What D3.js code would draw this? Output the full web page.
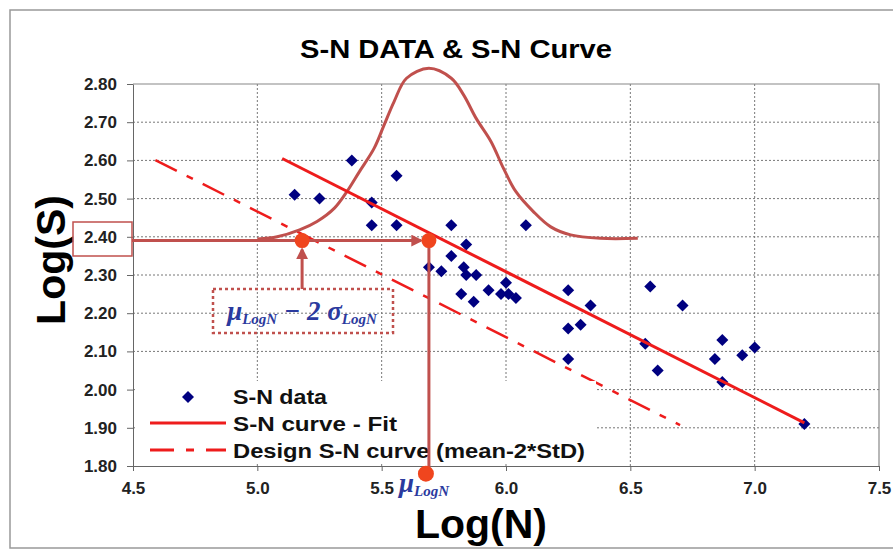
<!DOCTYPE html>
<html>
<head>
    <meta charset="utf-8">
    <title>S-N DATA & S-N Curve</title>
    <script src="https://d3js.org/d3.v7.min.js"></script>
    <style>
        body { margin: 0; background: #fff; }
        .grid line { stroke: #777; stroke-width: 1; stroke-dasharray: 2, 2; }
        .axis text { font: bold 17px "Liberation Sans", Arial, sans-serif; fill: #222; }
        .axis path, .axis line { stroke: #666; }
        .legend text { font: bold 20px "Liberation Sans", Arial, sans-serif; fill: #111; }
        .greek { font-family: "Liberation Serif", "Times New Roman", serif; font-style: italic; font-weight: bold; fill: #2b3a9e; }
    </style>
</head>
<body>
<svg width="893" height="555"></svg>
<script>
    // tick values
    var xTicks = [4.5, 5.0, 5.5, 6.0, 6.5, 7.0, 7.5];
    var yTicks = [1.8, 1.9, 2.0, 2.1, 2.2, 2.3, 2.4, 2.5, 2.6, 2.7, 2.8];

    // S-N data points (log N, log S)
    var snLogN = [5.15, 5.25, 5.38, 5.46, 5.46, 5.56, 5.56, 5.78, 6.08, 5.84,
        5.78, 5.69, 5.74, 5.83, 5.84, 5.88, 6.00, 5.93, 5.98, 6.01,
        6.04, 5.82, 5.87, 6.25, 6.25, 6.30, 6.34, 6.25, 6.58, 6.71,
        6.56, 6.61, 6.87, 6.84, 6.95, 7.00, 6.87, 7.20];
    var snLogS = [2.51, 2.50, 2.60, 2.49, 2.43, 2.56, 2.43, 2.43, 2.43, 2.38,
        2.35, 2.32, 2.31, 2.32, 2.30, 2.30, 2.28, 2.26, 2.25, 2.25,
        2.24, 2.25, 2.23, 2.26, 2.16, 2.17, 2.22, 2.08, 2.27, 2.22,
        2.12, 2.05, 2.13, 2.08, 2.09, 2.11, 2.02, 1.91];

    // fitted S-N curve and design curve (mean - 2*StD)
    var fitLogN = [5.10, 7.20];
    var fitLogS = [2.605, 1.913];
    var designLogN = [4.59, 6.70];
    var designLogS = [2.601, 1.907];

    // bell curve of log N
    var bellLogN = [5.00, 5.08, 5.17, 5.24, 5.31, 5.36, 5.41, 5.47, 5.51, 5.55, 5.60, 5.69,
        5.78, 5.83, 5.88, 5.94, 5.99, 6.04, 6.11, 6.18, 6.26, 6.38, 6.53];
    var bellLogS = [2.394, 2.400, 2.418, 2.440, 2.475, 2.518, 2.570, 2.632, 2.693, 2.754, 2.815, 2.841,
        2.815, 2.771, 2.710, 2.649, 2.579, 2.518, 2.466, 2.426, 2.405, 2.396, 2.396];

    var muLogN = 5.69, muMinus2SigmaLogN = 5.18, refLogS = 2.39, muFootLogS = 1.78;

    var svg = d3.select("svg");
    var red = "#ee1c1c", brown = "#c0504d", dot = "#f0451e", navy = "#000080";

    var x = d3.scaleLinear().domain([4.5, 7.5]).range([133, 879]);
    var y = d3.scaleLinear().domain([1.8, 2.8]).range([466, 84]);

    // outer frame
    svg.append("rect").attr("x", 10).attr("y", 10).attr("width", 900).attr("height", 538)
        .attr("fill", "none").attr("stroke", "#999").attr("stroke-width", 1.5);

    svg.append("defs").append("marker")
        .attr("id", "arrow")
        .attr("viewBox", "0 -5 10 10")
        .attr("refX", 8)
        .attr("refY", 0)
        .attr("markerWidth", 4)
        .attr("markerHeight", 4)
        .attr("orient", "auto")
        .append("path")
        .attr("d", "M0,-5L10,0L0,5")
        .attr("fill", brown);

    // grid
    var grid = svg.append("g").attr("class", "grid");
    grid.selectAll(".gx").data(xTicks.slice(1, -1)).enter().append("line")
        .attr("x1", function (d) { return x(d); }).attr("x2", function (d) { return x(d); })
        .attr("y1", y(2.8)).attr("y2", y(1.8));
    grid.selectAll(".gy").data(yTicks.slice(1, -1)).enter().append("line")
        .attr("x1", x(4.5)).attr("x2", x(7.5))
        .attr("y1", function (d) { return y(d); }).attr("y2", function (d) { return y(d); });

    // plot frame top/right
    svg.append("path")
        .attr("d", "M" + x(4.5) + "," + y(2.8) + "H" + x(7.5) + "V" + y(1.8))
        .attr("fill", "none").attr("stroke", "#888").attr("stroke-width", 1.2);

    // axes
    svg.append("g").attr("class", "axis")
        .attr("transform", "translate(" + x(4.5) + ",0)")
        .call(d3.axisLeft(y).tickValues(yTicks).tickFormat(d3.format(".2f")).tickSize(6).tickSizeOuter(0).tickPadding(10));
    svg.append("g").attr("class", "axis")
        .attr("transform", "translate(0," + y(1.8) + ")")
        .call(d3.axisBottom(x).tickValues(xTicks).tickFormat(d3.format(".1f")).tickSize(5).tickSizeOuter(0).tickPadding(11));

    // title and axis titles
    svg.append("text").attr("x", 300).attr("y", 58)
        .attr("textLength", 312).attr("lengthAdjust", "spacingAndGlyphs")
        .style("font", "bold 26px 'Liberation Sans', Arial, sans-serif").text("S-N DATA & S-N Curve");
    svg.append("text").attr("transform", "translate(65,260) rotate(-90)").attr("text-anchor", "middle")
        .style("font", "bold 41px 'Liberation Sans', Arial, sans-serif").text("Log(S)");
    svg.append("text").attr("x", 481).attr("y", 538).attr("text-anchor", "middle")
        .style("font", "bold 41px 'Liberation Sans', Arial, sans-serif").text("Log(N)");

    // design curve (dashed)
    svg.append("line")
        .attr("x1", x(designLogN[0])).attr("y1", y(designLogS[0]))
        .attr("x2", x(designLogN[1])).attr("y2", y(designLogS[1]))
        .attr("stroke", red).attr("stroke-width", 2.5).attr("stroke-dasharray", "24,11,7,11");

    // bell curve
    var line = d3.line().x(function (d) { return x(d[0]); }).y(function (d) { return y(d[1]); })
        .curve(d3.curveCatmullRom);
    svg.append("path").datum(d3.zip(bellLogN, bellLogS))
        .attr("d", line).attr("fill", "none").attr("stroke", brown).attr("stroke-width", 3);

    // data points
    svg.selectAll(".pt").data(d3.zip(snLogN, snLogS)).enter().append("path")
        .attr("d", d3.symbol().type(d3.symbolSquare).size(72))
        .attr("transform", function (d) { return "translate(" + x(d[0]) + "," + y(d[1]) + ") rotate(45)"; })
        .attr("fill", navy);

    // fit curve
    svg.append("line")
        .attr("x1", x(fitLogN[0])).attr("y1", y(fitLogS[0]))
        .attr("x2", x(fitLogN[1])).attr("y2", y(fitLogS[1]))
        .attr("stroke", red).attr("stroke-width", 3);

    // legend
    var legend = svg.append("g").attr("class", "legend");
    legend.append("rect").attr("x", 137).attr("y", 381).attr("width", 459).attr("height", 82).attr("fill", "#fff");
    legend.append("path").attr("d", d3.symbol().type(d3.symbolSquare).size(72))
        .attr("transform", "translate(188,397) rotate(45)").attr("fill", navy);
    legend.append("line").attr("x1", 150).attr("x2", 226).attr("y1", 423).attr("y2", 423)
        .attr("stroke", red).attr("stroke-width", 3);
    legend.append("line").attr("x1", 150).attr("x2", 226).attr("y1", 450).attr("y2", 450)
        .attr("stroke", red).attr("stroke-width", 3).attr("stroke-dasharray", "24,12,8,12");
    var legendRows = [["S-N data", 404, 94], ["S-N curve - Fit", 431, 164], ["Design S-N curve (mean-2*StD)", 458, 352]];
    legend.selectAll("text").data(legendRows).enter().append("text")
        .attr("x", 233).attr("y", function (d) { return d[1]; })
        .attr("textLength", function (d) { return d[2]; }).attr("lengthAdjust", "spacingAndGlyphs")
        .text(function (d) { return d[0]; });

    // annotations
    svg.append("rect").attr("x", 73).attr("y", 222).attr("width", 59).attr("height", 34)
        .attr("fill", "none").attr("stroke", brown).attr("stroke-width", 1.5);
    svg.append("line").attr("x1", 132).attr("x2", x(muLogN) - 8)
        .attr("y1", y(refLogS)).attr("y2", y(refLogS))
        .attr("stroke", brown).attr("stroke-width", 3).attr("marker-end", "url(#arrow)");
    svg.append("line").attr("x1", x(muLogN)).attr("x2", x(muLogN))
        .attr("y1", y(refLogS)).attr("y2", y(muFootLogS))
        .attr("stroke", brown).attr("stroke-width", 3);
    svg.append("line").attr("x1", x(muMinus2SigmaLogN)).attr("x2", x(muMinus2SigmaLogN))
        .attr("y1", 289).attr("y2", y(refLogS) + 9)
        .attr("stroke", brown).attr("stroke-width", 3).attr("marker-end", "url(#arrow)");
    svg.selectAll(".mk").data([[muMinus2SigmaLogN, refLogS], [muLogN, refLogS]]).enter().append("circle")
        .attr("cx", function (d) { return x(d[0]); }).attr("cy", function (d) { return y(d[1]); })
        .attr("r", 7.5).attr("fill", dot);
    svg.append("circle").attr("cx", x(muLogN) - 3).attr("cy", y(muFootLogS)).attr("r", 8).attr("fill", dot);

    svg.append("rect").attr("x", 213).attr("y", 289).attr("width", 180).attr("height", 44)
        .attr("fill", "none").attr("stroke", brown).attr("stroke-width", 2.5).attr("stroke-dasharray", "3,3");
    var t1 = svg.append("text").attr("class", "greek").attr("x", 302).attr("y", 320).attr("text-anchor", "middle");
    t1.append("tspan").style("font-size", "27px").text("μ");
    t1.append("tspan").style("font-size", "15px").attr("dy", 4).text("LogN");
    t1.append("tspan").style("font-size", "27px").attr("dy", -4).text(" \u2212 2 σ");
    t1.append("tspan").style("font-size", "15px").attr("dy", 4).text("LogN");

    var t2 = svg.append("text").attr("class", "greek").attr("x", 399).attr("y", 492);
    t2.append("tspan").style("font-size", "27px").text("μ");
    t2.append("tspan").style("font-size", "15px").attr("dy", 4).text("LogN");
</script>
</body>
</html>
